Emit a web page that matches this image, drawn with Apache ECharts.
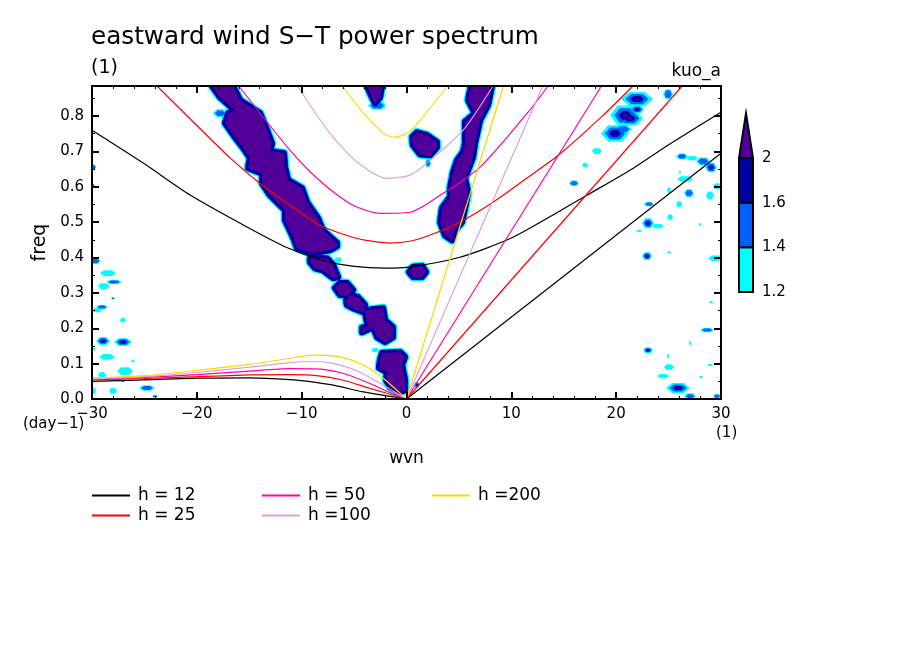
<!DOCTYPE html>
<html>
<head>
<meta charset="utf-8">
<script src="https://cdn.jsdelivr.net/npm/echarts@6/dist/echarts.min.js"></script>
<style>
  html, body { margin: 0; padding: 0; background: #fff; }
  #chart { width: 904px; height: 654px; }
</style>
</head>
<body>
<div id="chart"></div>
<script>
const heightLabels = ['h = 12', 'h = 25', 'h = 50', 'h =100', 'h =200'];
const heightColors = ['#000000', '#ff0000', '#ff00aa', '#dda0dd', '#ffd700'];

// eastward/westward gravity branch, [wvn, freq]
const gravity12 = [[-30,.76],[-25,.665],[-20.6,.576],[-15,.483],[-11.3,.427],[-8,.392],[-5,.375],[-2,.37],[0,.372],[5,.40],[10,.455],[14.6,.531],[17.2,.576],[21.6,.652],[24.9,.717],[30,.811]];
const gravity25 = [[-23.8,.885],[-20.6,.791],[-16.8,.681],[-13.8,.605],[-11.1,.548],[-8.3,.492],[-5,.456],[-3.5,.447],[-1.6,.441],[.3,.446],[2.2,.463],[5.1,.50],[8.25,.556],[11.6,.627],[14.6,.692],[18.75,.802],[21.6,.885]];
const gravity50 = [[-16,.885],[-11.1,.703],[-8,.61],[-5.1,.548],[-2.5,.525],[.33,.528],[3.2,.576],[7,.655],[11.6,.811],[13.5,.885]];
const gravity100 = [[-10.4,.885],[-7.3,.751],[-4.7,.67],[-1.9,.624],[.33,.633],[1.95,.667],[5.4,.76],[8.25,.885]];
const gravity200 = [[-6.1,.885],[-4.1,.808],[-2.2,.751],[-1.1,.74],[.33,.757],[1.3,.788],[3.9,.885]];

// kelvin branch
const kelvin12 = [[0,0],[30,.695]];
const kelvin25 = [[0,0],[26.3,.885]];
const kelvin50 = [[0,0],[18.6,.885]];
const kelvin100 = [[0,0],[13,.885]];
const kelvin200 = [[0,0],[9.25,.885]];

// rossby branch
const rossby12 = [[-30,.05],[-25,.054],[-20,.059],[-15,.06],[-11.11,.055],[-9.2,.049],[-6.98,.039],[-4.11,.02],[0,0]];
const rossby25 = [[-30,.054],[-25,.058],[-20,.063],[-15,.068],[-11.11,.069],[-8.57,.066],[-6.02,.053],[-3.48,.03],[0,0]];
const rossby50 = [[-30,.056],[-25,.061],[-20,.069],[-15,.079],[-11.11,.086],[-8.57,.085],[-6.02,.072],[-3.48,.044],[-1.57,.018],[0,0]];
const rossby100 = [[-30,.057],[-25,.063],[-20,.075],[-15,.09],[-11.11,.103],[-9.2,.106],[-7.29,.102],[-4.75,.08],[-2.21,.039],[0,0]];
const rossby200 = [[-30,.059],[-25,.066],[-20,.081],[-15,.098],[-11.11,.115],[-9.84,.121],[-8.57,.124],[-6.34,.119],[-4.11,.096],[-2.21,.058],[0,0]];

// large regions above 2, outlines as [wvn, freq]
const bandWest = [[-18.55,.885],[-16.55,.885],[-15.88,.845],[-13.97,.808],[-13.31,.76],[-12.83,.723],[-13.02,.701],[-11.69,.695],[-11.59,.655],[-11.3,.619],[-9.97,.596],[-9.49,.556],[-8.44,.511],[-7.97,.477],[-6.63,.441],[-6.63,.432],[-7.3,.421],[-8.92,.412],[-10.45,.427],[-10.83,.458],[-11.59,.506],[-11.59,.534],[-13.02,.576],[-13.78,.61],[-13.78,.638],[-15.12,.653],[-14.93,.681],[-15.41,.703],[-16.36,.74],[-17.31,.78],[-17.03,.808],[-16.36,.816],[-17.79,.853]];
const blobB = [[-9.21,.398],[-7.58,.398],[-7.01,.379],[-6.53,.345],[-7.01,.342],[-7.97,.364],[-8.73,.37],[-9.21,.387]];
const blobC = [[-6.82,.314],[-6.34,.328],[-5.68,.328],[-5.1,.308],[-5.58,.294],[-6.34,.294]];
const blobD = [[-5.77,.28],[-5.39,.294],[-4.63,.288],[-3.96,.266],[-4.15,.246],[-5.1,.257],[-5.68,.266]];
const blobE = [[-3.96,.251],[-2.24,.257],[-2.05,.223],[-1.29,.203],[-1.29,.175],[-2.05,.161],[-2.81,.175],[-3.2,.203],[-4.25,.189],[-4.25,.201],[-3.67,.206],[-3.86,.229]];
const blobF = [[-2.34,.13],[-.62,.133],[-.14,.119],[-.43,.096],[-.14,.054],[-.14,.025],[-.62,.02],[-1.57,.034],[-1.96,.054],[-1.86,.076],[-2.62,.088],[-2.53,.11]];
const blobG = [[.24,.359],[.62,.373],[1.48,.376],[1.86,.359],[1.48,.345],[.62,.345]];
const blobH = [[-3.77,.885],[-2.34,.885],[-2.53,.853],[-3,.836],[-3.29,.853]];
const blobI = [[.52,.74],[1,.754],[1.96,.746],[2.91,.726],[2.91,.712],[2.24,.689],[1.29,.692],[.62,.718]];
const bandEast = [[6.15,.885],[5.87,.845],[6.53,.808],[5.58,.784],[5.58,.723],[5.39,.698],[4.82,.675],[4.44,.641],[4.15,.596],[4.15,.571],[3.39,.54],[3.2,.5],[3.67,.463],[4.34,.449],[4.63,.477],[5.29,.5],[5.58,.54],[5.87,.585],[5.58,.624],[6.34,.684],[6.53,.723],[7.01,.788],[7.77,.831],[8.15,.885]];
const largeRegions = [bandWest, blobB, blobC, blobD, blobE, blobF, blobG, blobH, blobI, bandEast];

// small patches: [wvn, freq, half width, half height, levels reached]
const patchesEast = [[21.99,.848,1.53,.02,3],[24.95,.862,.48,.014,2],[20.85,.802,1.43,.028,4],[21.99,.819,.67,.011,3],[21.32,.794,1.24,.02,4],[19.89,.751,1.34,.023,3],[20.65,.763,.86,.011,2],[18.17,.701,.48,.008,1],[17.03,.661,.29,.006,1],[15.98,.61,.48,.008,2],[26.28,.686,.57,.008,2],[27.24,.681,.57,.006,1],[28.29,.672,.67,.011,2],[29.05,.655,.57,.014,3],[26.57,.622,.76,.008,1],[26.09,.641,.1,.004,1],[25.04,.59,.19,.008,1],[26.95,.582,.48,.011,2],[28.95,.576,.38,.011,1],[29.62,.602,.38,.008,1],[26,.551,.29,.008,1],[23.13,.551,.48,.006,2],[25.14,.514,.29,.008,1],[23.04,.497,.57,.014,3],[23.99,.489,.57,.006,1],[22.18,.475,.29,.003,1],[28,.494,.1,.004,1],[22.94,.404,.48,.011,3],[25.04,.415,.19,.003,1],[29.43,.398,.67,.008,1],[29.05,.274,.19,.003,1],[28.67,.195,.67,.006,2],[27.05,.158,.1,.006,1],[23.04,.138,.48,.008,3],[24.95,.121,.1,.006,1],[25.04,.09,.48,.008,1],[28.95,.096,.29,.003,1],[24.47,.065,.57,.006,1],[28.1,.062,.19,.003,1],[25.9,.031,1.14,.014,3],[27.05,.008,.57,.008,2],[29.62,.008,.38,.006,2]];
const patchesWest = [[-29.72,.39,.57,.008,2],[-28.48,.356,.76,.008,1],[-28.86,.319,.57,.008,1],[-27.9,.331,.76,.006,2],[-28,.285,.19,.003,2],[-29.05,.26,.57,.006,2],[-29.53,.251,.48,.006,1],[-27.05,.223,.29,.006,1],[-28.95,.164,.67,.011,3],[-27.05,.161,.86,.011,3],[-29.81,.141,.19,.003,1],[-28.57,.119,.76,.008,1],[-26.09,.107,.19,.003,1],[-26.85,.079,.76,.011,1],[-29.05,.068,.38,.008,1],[-27.05,.051,.19,.003,2],[-29.81,.023,.19,.008,1],[-28,.023,.38,.008,1],[-24.76,.031,.76,.008,2],[-23.99,.008,.29,.003,2],[-29.81,.655,.19,.008,2],[-29.9,.602,.19,.006,2]];
const patchesCentre = [[2.05,.667,.29,.011,2],[-2.8,.83,.9,.012,2],[1,.04,.29,.008,3],[-3,.138,.38,.006,1],[-6.53,.393,.38,.008,1],[-17.79,.808,.67,.011,2]];
const smallPatches = [...patchesEast, ...patchesWest, ...patchesCentre];

const levelColors = ['#00ffff', '#0060ff', '#0000a0', '#500099'];
const colorbarTicks = ['1.2', '1.4', '1.6', '2'];

const font = '"DejaVu Sans"';
const myChart = echarts.init(document.getElementById('chart'));

const polygonOf = (points, api, style) => ({
    type: 'polygon',
    shape: { points: points.map(p => api.coord(p)) },
    style: style
});

const regionStrokes = [9, 6.5, 6, 0];
const patchScales = [1, .72, .42, .15];

// one custom series per level, so a lower level never paints over a higher one
const regionLevel = level => ({
    type: 'custom',
    clip: true,
    silent: true,
    z: 2,
    encode: { x: 0, y: 0 },
    data: largeRegions.map((r, i) => [i]),
    renderItem: (params, api) => polygonOf(largeRegions[api.value(0)], api, {
        fill: levelColors[level],
        stroke: regionStrokes[level] ? levelColors[level] : null,
        lineWidth: regionStrokes[level],
        lineJoin: 'round'
    })
});

const patchLevel = level => ({
    type: 'custom',
    clip: true,
    silent: true,
    z: 2,
    encode: { x: 0, y: 0 },
    data: smallPatches.map((p, i) => [i]).filter(d => smallPatches[d[0]][4] > level),
    renderItem: (params, api) => {
        const [x, y, w, h] = smallPatches[api.value(0)];
        const sw = w * patchScales[level], sh = h * patchScales[level];
        return polygonOf(
            [[x - sw, y], [x - sw / 2, y + sh], [x + sw / 2, y + sh], [x + sw, y], [x + sw / 2, y - sh], [x - sw / 2, y - sh]],
            api, { fill: levelColors[level] });
    }
});

const renderColorbar = (params, api) => {
    const i = api.value(0);
    const points = i < 3
        ? [[0, i], [1, i], [1, i + 1], [0, i + 1]]
        : [[0, 3], [1, 3], [.5, 4]];
    return polygonOf(points, api, { fill: levelColors[i], stroke: '#000', lineWidth: 2 });
};

const curveSeries = [
    [gravity12, kelvin12, rossby12],
    [gravity25, kelvin25, rossby25],
    [gravity50, kelvin50, rossby50],
    [gravity100, kelvin100, rossby100],
    [gravity200, kelvin200, rossby200]
].flatMap((branches, h) => branches.map(branch => ({
    name: heightLabels[h],
    type: 'line',
    data: branch,
    smooth: .25,
    showSymbol: false,
    silent: true,
    z: 5,
    itemStyle: { color: heightColors[h] },
    lineStyle: { color: heightColors[h], width: 1.2 }
})));

const legendFor = (left, names) => ({
    left: left,
    top: 487,
    orient: 'vertical',
    data: names,
    icon: 'rect',
    itemWidth: 38,
    itemHeight: 2,
    itemGap: 3,
    padding: 0,
    textStyle: { fontFamily: font, fontSize: 17, color: '#000', padding: [0, 0, 0, 3] }
});

const tickColor = { color: '#000', width: 2 };

const option = {
    animation: false,
    backgroundColor: '#fff',
    title: [
        { text: 'eastward wind S\u2212T power spectrum', left: 91, top: 25, padding: 0, textStyle: { fontFamily: font, fontSize: 24.7, fontWeight: 'normal', color: '#000' } },
        { text: '(1)', left: 91, top: 59, padding: 0, textStyle: { fontFamily: font, fontSize: 19, fontWeight: 'normal', color: '#000' } },
        { text: 'kuo_a', right: 183, top: 63, padding: 0, textStyle: { fontFamily: font, fontSize: 17, fontWeight: 'normal', color: '#000' } },
        { text: '(day\u22121)', left: 23, top: 417, padding: 0, textStyle: { fontFamily: font, fontSize: 15, fontWeight: 'normal', color: '#000' } },
        { text: '(1)', left: 716, top: 426, padding: 0, textStyle: { fontFamily: font, fontSize: 15, fontWeight: 'normal', color: '#000' } }
    ],
    legend: [
        legendFor(92, heightLabels.slice(0, 2)),
        legendFor(262, heightLabels.slice(2, 4)),
        legendFor(432, heightLabels.slice(4))
    ],
    grid: [
        { left: 92, top: 86, width: 629, height: 313 },
        { left: 739, top: 112, width: 14, height: 180 }
    ],
    xAxis: [
        {
            type: 'value', min: -30, max: 30, interval: 10, z: 10,
            name: 'wvn', nameLocation: 'middle', nameGap: 51,
            nameTextStyle: { fontFamily: font, fontSize: 17, color: '#000' },
            axisLine: { onZero: false, lineStyle: tickColor },
            axisTick: { inside: true, length: 7, lineStyle: tickColor },
            minorTick: { show: true, splitNumber: 5, length: 3, lineStyle: { color: '#000', width: 1 } },
            splitLine: { show: false },
            axisLabel: {
                margin: 8, fontFamily: font, fontSize: 15, color: '#000', showMinLabel: true, showMaxLabel: true,
                formatter: v => String(v).replace('-', '\u2212')
            }
        },
        {
            type: 'value', position: 'top', min: -30, max: 30, interval: 10, z: 10,
            axisLine: { onZero: false, lineStyle: tickColor },
            axisTick: { inside: true, length: 7, lineStyle: tickColor },
            minorTick: { show: true, splitNumber: 5, length: 3, lineStyle: { color: '#000', width: 1 } },
            splitLine: { show: false },
            axisLabel: { show: false }
        },
        { type: 'value', gridIndex: 1, min: 0, max: 1, show: false }
    ],
    yAxis: [
        {
            type: 'value', min: 0, max: .885, interval: .1, z: 10,
            name: 'freq', nameLocation: 'middle', nameGap: 39,
            nameTextStyle: { fontFamily: font, fontSize: 19, color: '#000' },
            axisLine: { onZero: false, lineStyle: tickColor },
            axisTick: { inside: true, length: 7, lineStyle: tickColor },
            minorTick: { show: true, splitNumber: 2, length: 3, lineStyle: { color: '#000', width: 1 } },
            splitLine: { show: false },
            axisLabel: { margin: 8, padding: [3, 0, 0, 0], fontFamily: font, fontSize: 15, color: '#000', showMaxLabel: false, formatter: v => v.toFixed(1) }
        },
        {
            type: 'value', position: 'right', min: 0, max: .885, interval: .1, z: 10,
            axisLine: { onZero: false, lineStyle: tickColor },
            axisTick: { inside: true, length: 7, lineStyle: tickColor },
            minorTick: { show: true, splitNumber: 2, length: 3, lineStyle: { color: '#000', width: 1 } },
            splitLine: { show: false },
            axisLabel: { show: false }
        },
        {
            type: 'value', gridIndex: 1, position: 'right', min: 0, max: 4.03, interval: 1,
            axisLine: { show: false },
            axisTick: { show: false },
            splitLine: { show: false },
            axisLabel: { margin: 9, padding: [2, 0, 0, 0], fontFamily: font, fontSize: 15, color: '#000', formatter: v => colorbarTicks[v] || '' }
        }
    ],
    series: [
        ...[0, 1, 2, 3].flatMap(level => [regionLevel(level), patchLevel(level)]),
        {
            type: 'custom',
            xAxisIndex: 2,
            yAxisIndex: 2,
            silent: true,
            renderItem: renderColorbar,
            encode: { x: 0, y: 0 },
            data: levelColors.map((c, i) => [i])
        },
        ...curveSeries
    ]
};

myChart.setOption(option);
</script>
</body>
</html>
